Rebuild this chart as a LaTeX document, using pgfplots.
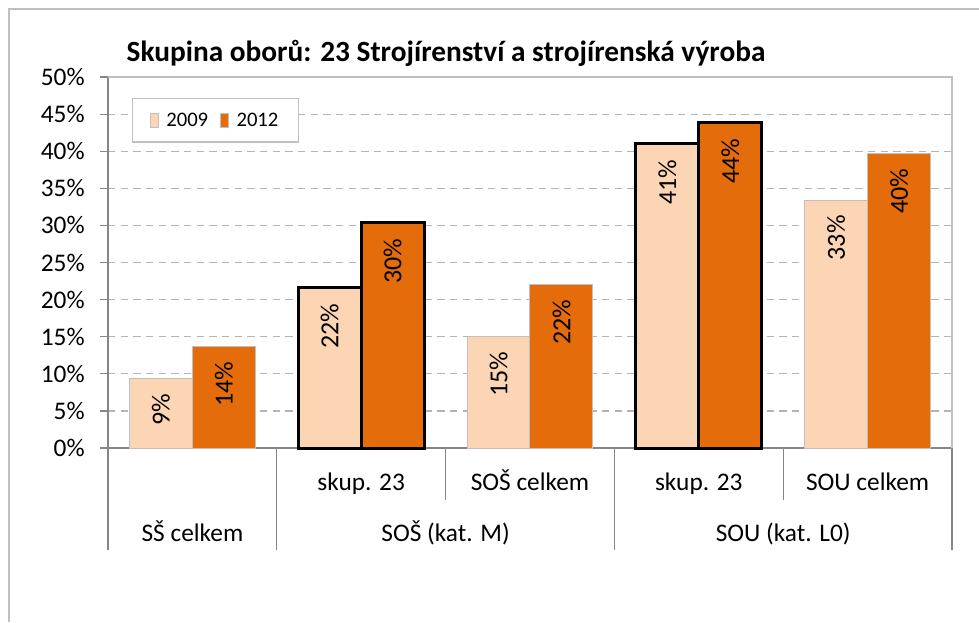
\documentclass[border=0pt]{standalone}
\usepackage{pgfplots}
\pgfplotsset{compat=1.18}
\usepackage{fontspec}
\setmainfont{Carlito}
\definecolor{c09}{HTML}{FCD5B5}
\definecolor{c12}{HTML}{E46C0A}
\definecolor{axgray}{HTML}{868686}
\definecolor{lgray}{HTML}{C0C0C0}
\definecolor{gridc}{HTML}{B4B4B4}
\newcommand{\lab}{\fontsize{19}{22}\selectfont}
\begin{document}
\begin{tikzpicture}
\path[use as bounding box] (0,0) rectangle (734.25pt,466.5pt);
\fill[white] (0,0) rectangle (734.25pt,466.5pt);
\draw[lgray, line width=1.1pt] (6.75pt,0) -- (6.75pt,459.75pt) -- (734.25pt,459.75pt);
\begin{axis}[
  at={(81pt,130.5pt)}, anchor=south west,
  scale only axis, width=633pt, height=278.25pt,
  xmin=-0.5, xmax=4.5, ymin=0, ymax=50,
  clip=false,
  axis x line*=bottom, axis y line*=left,
  axis line style={axgray, line width=0.9pt},
  /pgf/number format/assume math mode=true,
  ytick={0,5,...,50},
  yticklabel={\pgfmathprintnumber{\tick}\%},
  yticklabel style={font=\lab, text=black, xshift=-8pt},
  tick align=outside, major tick length=6pt,
  ytick style={axgray, line width=0.9pt},
  xtick={0,...,4},
  xticklabels={,skup. 23,SOŠ celkem,skup. 23,SOU celkem},
  xtick style={draw=none},
  xticklabel style={font=\lab, text=black, anchor=base, yshift=-26pt},
  ymajorgrids,
  grid style={gridc, dash pattern=on 5.5pt off 4pt, line width=0.9pt},
  title={Skupina oborů: 23 Strojírenství a strojírenská výroba},
  title style={at={(0.4005,1)}, anchor=base, yshift=6pt, font=\bfseries\fontsize{22}{24}\selectfont},
  point meta=y,
  nodes near coords={\pgfmathprintnumber[fixed,precision=0]{\pgfplotspointmeta}\%},
  nodes near coords style={font=\fontsize{19.5}{22}\selectfont, rotate=90, anchor=east, inner xsep=11pt, text=black},
  legend style={at={(0.0284,0.9434)}, anchor=north west, draw=lgray, line width=1pt,
    font=\fontsize{15.5}{18}\selectfont, inner xsep=13pt, inner ysep=8.5pt,
    /tikz/every even column/.append style={column sep=7pt}},
  legend columns=2,
  legend image code/.code={\path[draw=none,fill=none] (0pt,0pt) -- (10pt,0pt);\draw[#1, line width=0.5pt] (0pt,-5.5pt) rectangle (6pt,5.5pt);},
]
\draw[lgray, line width=0.9pt] (rel axis cs:0,1) -- (rel axis cs:1,1) -- (rel axis cs:1,0);
% bars: 2009 at category - 0.1866, 2012 at category + 0.1866
\addplot[ybar, bar width=47.25pt, bar shift=0pt, fill=c09, draw=lgray, line width=0.75pt]
  coordinates {(-0.1866,9.3) (1.8134,15.0) (3.8134,33.4)};
\addlegendentry{2009}
\addplot[ybar, bar width=47.25pt, bar shift=0pt, fill=c12, draw=lgray, line width=0.75pt]
  coordinates {(0.1866,13.7) (2.1866,22.0) (4.1866,39.7)};
\addlegendentry{2012}
\addplot[ybar, bar width=47.25pt, bar shift=0pt, fill=c09, draw=black, line width=2.25pt, forget plot]
  coordinates {(0.8134,21.6) (2.8134,41.0)};
\addplot[ybar, bar width=47.25pt, bar shift=0pt, fill=c12, draw=black, line width=2.25pt, forget plot]
  coordinates {(1.1866,30.4) (3.1866,43.9)};
\draw[axgray, line width=0.9pt] (axis cs:-0.5,0) -- ++(0pt,-76.5pt);
\draw[axgray, line width=0.9pt] (axis cs:0.5,0) -- ++(0pt,-76.5pt);
\draw[axgray, line width=0.9pt] (axis cs:1.5,0) -- ++(0pt,-39pt);
\draw[axgray, line width=0.9pt] (axis cs:2.5,0) -- ++(0pt,-76.5pt);
\draw[axgray, line width=0.9pt] (axis cs:3.5,0) -- ++(0pt,-39pt);
\draw[axgray, line width=0.9pt] (axis cs:4.5,0) -- ++(0pt,-76.5pt);
\node[font=\lab, anchor=base, yshift=-70pt] at (axis cs:0,0) {SŠ celkem};
\node[font=\lab, anchor=base, yshift=-70pt] at (axis cs:1.5,0) {SOŠ (kat. M)};
\node[font=\lab, anchor=base, yshift=-70pt] at (axis cs:3.5,0) {SOU (kat. L0)};
\end{axis}
\end{tikzpicture}
\end{document}
